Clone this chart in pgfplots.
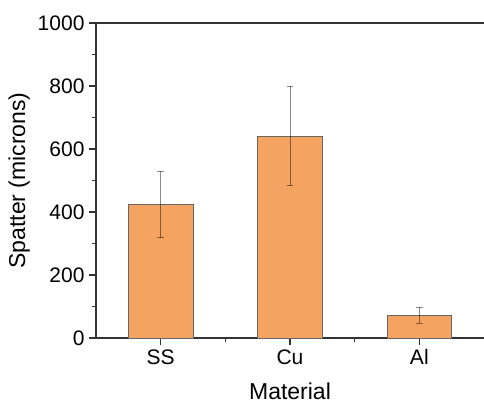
\documentclass[border=0pt]{standalone}
\usepackage{pgfplots}
\pgfplotsset{compat=1.18}
\usepackage{fontspec}
\setmainfont{Liberation Sans}
\definecolor{barfill}{HTML}{F4A460}
\definecolor{axgray}{HTML}{333333}
\begin{document}
\begin{tikzpicture}
\begin{axis}[
  name=ax,
  scale only axis,
  width=388pt, height=315pt,
  xmin=0.5, xmax=3.5,
  ymin=0, ymax=1000,
  axis x line*=box,
  axis y line*=left,
  axis line style={color=axgray, line width=1.1pt},
  xtick={1,2,3},
  xticklabels={SS,Cu,Al},
  minor xtick={1.5,2.5},
  xtick pos=bottom,
  ytick={0,200,400,600,800,1000},
  minor y tick num=1,
  tick align=outside,
  major tick length=7pt,
  minor tick length=4pt,
  every tick/.style={color=axgray, line width=1.1pt},
  ticklabel style={font=\fontsize{21}{25}\selectfont, text=black},
  /pgf/number format/assume math mode=true,
  /pgf/number format/1000 sep={},
  yticklabel style={xshift=-1pt},
  xticklabel style={yshift=-1pt},
  xlabel={Material},
  ylabel={Spatter (microns)},
  label style={font=\fontsize{23}{27}\selectfont},
  xlabel style={yshift=-11pt},
  ylabel style={yshift=1pt},
  clip=false,
]
\addplot[
  ybar, bar width=0.5, fill=barfill, draw=black!60, line width=0.8pt,
  error bars/.cd, y dir=both, y explicit,
  error bar style={line width=0.9pt, draw=black, opacity=0.45},
  error mark options={rotate=90, mark size=3.3pt, line width=0.9pt, draw=black, opacity=0.45},
] coordinates {
  (1,424) +- (0,106)
  (2,641) +- (0,158)
  (3,72) +- (0,25)
};
\end{axis}
\pgfresetboundingbox
\path ([shift={(-96pt,-67pt)}]ax.south west) rectangle ([shift={(0pt,23pt)}]ax.north east);
\end{tikzpicture}
\end{document}
